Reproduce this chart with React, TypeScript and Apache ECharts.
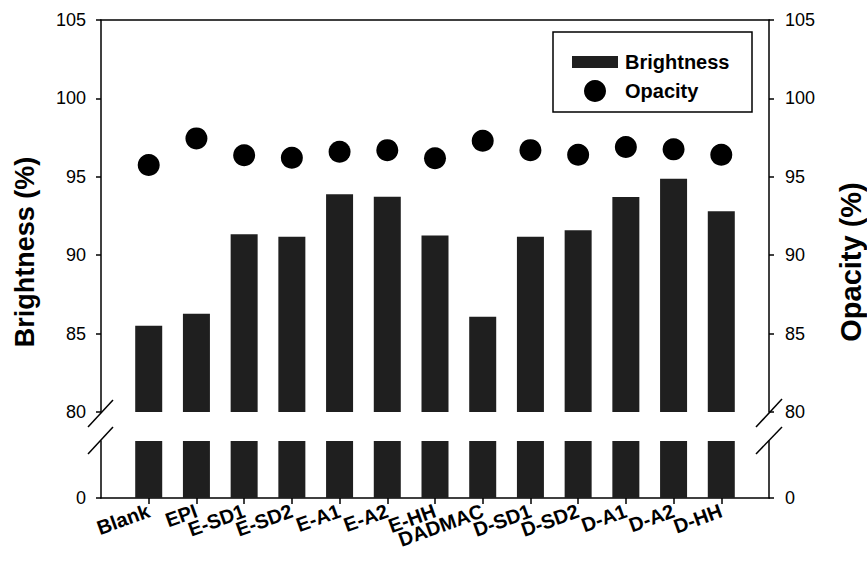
import React, { useEffect, useRef } from "react";
import * as echarts from "echarts";

const categories = ["Blank", "EPI", "E-SD1", "E-SD2", "E-A1", "E-A2", "E-HH", "DADMAC", "D-SD1", "D-SD2", "D-A1", "D-A2", "D-HH"];
const brightness = [85.5, 86.27, 91.33, 91.18, 93.88, 93.73, 91.25, 86.08, 91.18, 91.59, 93.71, 94.88, 92.8];
const opacity = [95.75, 97.45, 96.37, 96.22, 96.6, 96.7, 96.18, 97.3, 96.7, 96.4, 96.9, 96.75, 96.4];
const upperTicks = [80, 85, 90, 95, 100, 105];
const lowerTicks = [0];

const FONT = "Liberation Sans, Arial, sans-serif";

export default function App() {
  const ref = useRef<HTMLDivElement>(null);
  useEffect(() => {
    if (!ref.current) return;
    const chart = echarts.init(ref.current, null, { renderer: "svg" });
    // padded slots: an empty slot at each end of the axis
    const slots = ["", ...categories, ""];
    const last = slots.length - 1;
    const barData = brightness.map((v, i) => [i + 1, v]);
    const opData = opacity.map((v, i) => [i + 1, v]);
    const lineStyle = { color: "#000", width: 1.5 };
    const yLabel = { fontFamily: FONT, fontSize: 18, color: "#000" };
    const barColor = "#1f1f1f";
    const option: any = {
      animation: false,
      backgroundColor: "#fff",
      grid: [
        { left: 101, right: 98, top: 20, height: 392 },
        { left: 101, right: 98, top: 441, height: 57 },
      ],
      xAxis: [
        {
          gridIndex: 0, type: "value", min: 0, max: last, position: "top",
          axisLine: { show: true, lineStyle }, axisTick: { show: false },
          axisLabel: { show: false }, splitLine: { show: false },
        },
        {
          gridIndex: 1, type: "category", data: slots, boundaryGap: false, position: "bottom",
          axisLine: { show: true, lineStyle },
          axisTick: { show: true, length: 6, lineStyle, interval: (idx: number) => idx > 0 && idx < last },
          axisLabel: {
            interval: 0, rotate: 20, margin: 12,
            fontFamily: FONT, fontSize: 20, fontWeight: "bold", color: "#000",
          },
          splitLine: { show: false },
        },
      ],
      yAxis: [
        {
          gridIndex: 0, type: "value", min: 80, max: 105, interval: 5, position: "left",
          axisLine: { show: true, lineStyle },
          axisTick: { show: true, length: 5, lineStyle, customValues: upperTicks },
          axisLabel: { ...yLabel, margin: 15, customValues: upperTicks },
          splitLine: { show: false },
        },
        {
          gridIndex: 0, type: "value", min: 80, max: 105, interval: 5, position: "right",
          axisLine: { show: true, lineStyle },
          axisTick: { show: true, length: 5, lineStyle, customValues: upperTicks },
          axisLabel: { ...yLabel, margin: 16, customValues: upperTicks },
          splitLine: { show: false },
        },
        {
          gridIndex: 1, type: "value", min: 0, max: 80, interval: 80, position: "left",
          axisLine: { show: true, lineStyle },
          axisTick: { show: true, length: 5, lineStyle, customValues: lowerTicks },
          axisLabel: { ...yLabel, margin: 15, customValues: lowerTicks },
          splitLine: { show: false },
        },
        {
          gridIndex: 1, type: "value", min: 0, max: 80, interval: 80, position: "right",
          axisLine: { show: true, lineStyle },
          axisTick: { show: true, length: 5, lineStyle, customValues: lowerTicks },
          axisLabel: { ...yLabel, margin: 16, customValues: lowerTicks },
          splitLine: { show: false },
        },
      ],
      legend: [
        {
          data: [{ name: "Brightness", icon: "rect" }],
          orient: "vertical", left: 567, top: 47,
          itemWidth: 46, itemHeight: 12,
          itemStyle: { opacity: 1 },
          textStyle: { fontFamily: FONT, fontSize: 20, fontWeight: "bold", color: "#000", padding: [0, 0, 0, 2] },
          selectedMode: false,
        },
        {
          data: [{ name: "Opacity", icon: "circle" }],
          orient: "vertical", left: 579, top: 75,
          itemWidth: 22, itemHeight: 22,
          itemStyle: { opacity: 1, color: "#000" },
          textStyle: { fontFamily: FONT, fontSize: 20, fontWeight: "bold", color: "#000", padding: [0, 0, 0, 14] },
          selectedMode: false,
        },
      ],
      series: [
        {
          name: "Brightness", type: "bar", xAxisIndex: 0, yAxisIndex: 0,
          data: barData, barWidth: 27, clip: true,
          itemStyle: { color: barColor },
        },
        {
          name: "Brightness", type: "bar", xAxisIndex: 1, yAxisIndex: 2,
          data: barData, barWidth: 27, clip: true,
          itemStyle: { color: barColor },
        },
        {
          name: "Opacity", type: "scatter", xAxisIndex: 0, yAxisIndex: 1,
          data: opData, symbol: "circle", symbolSize: 22,
          itemStyle: { color: "#000", opacity: 1 },
        },
      ],
      graphic: [
        { type: "rect", shape: { x: 553, y: 32, width: 199, height: 80 }, style: { fill: "none", stroke: "#000", lineWidth: 1.5 }, z: 10 },
        { type: "line", shape: { x1: 88, y1: 427, x2: 113, y2: 400 }, style: { stroke: "#000", lineWidth: 1.5 } },
        { type: "line", shape: { x1: 88, y1: 454, x2: 113, y2: 427 }, style: { stroke: "#000", lineWidth: 1.5 } },
        { type: "line", shape: { x1: 756, y1: 427, x2: 782, y2: 399 }, style: { stroke: "#000", lineWidth: 1.5 } },
        { type: "line", shape: { x1: 756, y1: 454, x2: 782, y2: 427 }, style: { stroke: "#000", lineWidth: 1.5 } },
        {
          type: "text", x: 25, y: 252, rotation: Math.PI / 2,
          style: { text: "Brightness (%)", fontFamily: FONT, fontSize: 27, fontWeight: "bold", fill: "#000", align: "center", verticalAlign: "middle" },
        },
        {
          type: "text", x: 851, y: 262, rotation: Math.PI / 2,
          style: { text: "Opacity (%)", fontFamily: FONT, fontSize: 29, fontWeight: "bold", fill: "#000", align: "center", verticalAlign: "middle" },
        },
      ],
    };
    chart.setOption(option);
    return () => chart.dispose();
  }, []);
  return <div ref={ref} style={{ width: 867, height: 563, position: "absolute", left: 0, top: 0 }} />;
}
